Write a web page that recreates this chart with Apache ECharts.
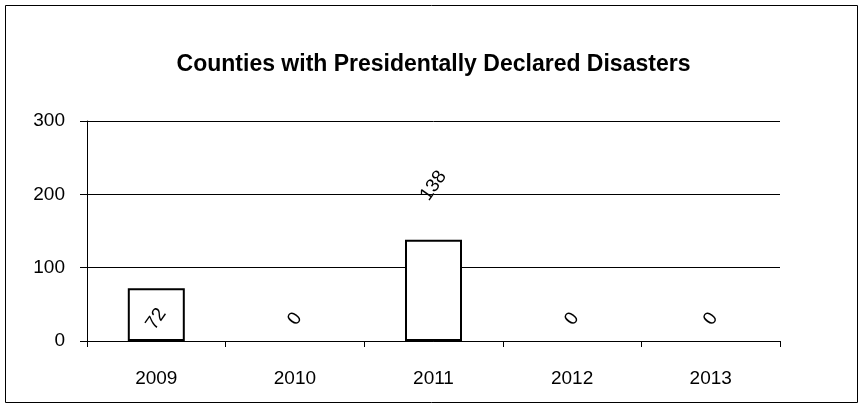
<!DOCTYPE html>
<html><head><meta charset="utf-8">
<script src="https://cdn.jsdelivr.net/npm/echarts@6/dist/echarts.min.js"></script>
<style>html,body{margin:0;padding:0;background:#fff}#c{width:867px;height:408px}</style>
</head><body><div id="c"></div>
<script>
const title = 'Counties with Presidentally Declared Disasters';
const categories = ['2009','2010','2011','2012','2013'];
const values = [72, 0, 138, 0, 0];
const yTicks = [0, 100, 200, 300];

const chart = echarts.init(document.getElementById('c'));
const font = 'Arial, "Liberation Sans", sans-serif';
chart.setOption({
  animation: false,
  backgroundColor: '#fff',
  title: {text: title, left: 'center', top: 48,
    textStyle: {fontFamily: font, fontSize: 23, fontWeight: 'bold', color: '#000'}},
  graphic: [{type: 'rect', shape: {x: 5.5, y: 5.5, width: 852, height: 397},
    style: {fill: 'none', stroke: '#000', lineWidth: 1}}],
  grid: {left: 87, right: 87, top: 121, bottom: 67},
  xAxis: {type: 'category', data: categories,
    axisLine: {lineStyle: {color: '#000', width: 1}},
    axisTick: {show: true, length: 6, lineStyle: {color: '#000'}},
    axisLabel: {fontFamily: font, fontSize: 19, color: '#000', margin: 28}},
  yAxis: {type: 'value', min: yTicks[0], max: yTicks[yTicks.length-1], interval: 100,
    axisLine: {show: true, lineStyle: {color: '#000', width: 1}},
    axisTick: {show: true, length: 7, lineStyle: {color: '#000'}},
    splitLine: {lineStyle: {color: '#000', width: 1}},
    axisLabel: {fontFamily: font, fontSize: 19, color: '#000', margin: 22}},
  series: [{type: 'bar', barWidth: 57,
    data: values.map((v) => ({value: v,
      itemStyle: v === 0 ? {borderWidth: 0} : {},
      label: v > 100 ? {position: 'top', distance: 54} : {}})),
    itemStyle: {color: '#fff', borderColor: '#000', borderWidth: 2},
    label: {show: true, position: 'insideBottom', distance: 22, rotate: 55,
      align: 'center', verticalAlign: 'middle',
      fontFamily: font, fontSize: 19, color: '#000'}}]
});
</script></body></html>
